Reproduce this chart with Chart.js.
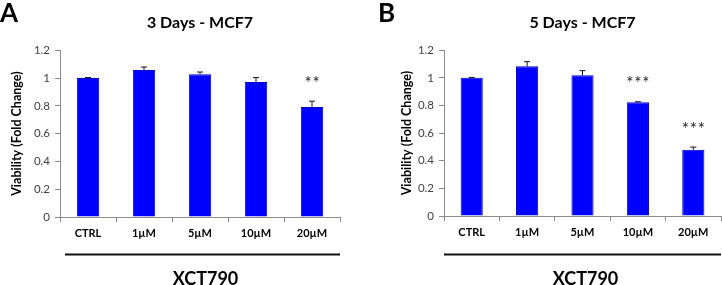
<!DOCTYPE html>
<html>
<head>
<meta charset="utf-8">
<script src="https://cdn.jsdelivr.net/npm/chart.js@4"></script>
<style>
  body { margin: 0; background: #fff; }
  .wrap { display: flex; width: 722px; height: 285px; }
  .panel { position: relative; width: 361px; height: 285px; }
  canvas { display: block; }
</style>
</head>
<body>
<div class="wrap">
  <div class="panel"><canvas id="panel-a" width="361" height="285"></canvas></div>
  <div class="panel"><canvas id="panel-b" width="361" height="285"></canvas></div>
</div>
<script>
const doses = ['CTRL', '1µM', '5µM', '10µM', '20µM'];

const day3Viability = [1.0, 1.058, 1.027, 0.971, 0.791];
const day3Error = [0.003, 0.021, 0.016, 0.032, 0.042];
const day3Sig = ['', '', '', '', '**'];

const day5Viability = [1.0, 1.083, 1.018, 0.823, 0.479];
const day5Error = [0.003, 0.034, 0.034, 0.004, 0.02];
const day5Sig = ['', '', '', '***', '***'];

const yMin = 0, yMax = 1.2, yStep = 0.2;

const FONT = 'Lato, "Open Sans", sans-serif';

// error bars, stars, panel letter, drug line
const panelDeco = {
  id: 'panelDeco',
  afterDatasetsDraw(chart, args, opts) {
    const {ctx} = chart;
    const y = chart.scales.y;
    const bars = chart.getDatasetMeta(0).data;
    bars.forEach((bar, i) => {
      const top = y.getPixelForValue(opts.values[i] + opts.errors[i]);
      ctx.save();
      ctx.strokeStyle = '#101030';
      ctx.lineWidth = 1;
      ctx.beginPath();
      ctx.moveTo(bar.x, bar.y);
      ctx.lineTo(bar.x, top);
      ctx.moveTo(bar.x - 3, top);
      ctx.lineTo(bar.x + 3, top);
      ctx.stroke();
      if (opts.stars[i]) {
        ctx.fillStyle = '#222';
        ctx.font = '17px ' + FONT;
        ctx.textAlign = 'center';
        ctx.textBaseline = 'middle';
        const n = opts.stars[i].length;
        for (let k = 0; k < n; k++) {
          ctx.fillText('*', bar.x + (k - (n - 1) / 2) * 8, top - 18);
        }
      }
      ctx.restore();
    });
  },
  afterDraw(chart, args, opts) {
    const {ctx, chartArea} = chart;
    ctx.save();
    ctx.fillStyle = '#000';
    ctx.font = 'bold 26px ' + FONT;
    ctx.textAlign = 'left';
    ctx.textBaseline = 'alphabetic';
    ctx.fillText(opts.letter, opts.letterX, 22);

    ctx.strokeStyle = '#111';
    ctx.lineWidth = 2;
    ctx.beginPath();
    ctx.moveTo(opts.lineFrom, 254.5);
    ctx.lineTo(chartArea.right, 254.5);
    ctx.stroke();

    ctx.font = 'bold 18px ' + FONT;
    ctx.textAlign = 'center';
    ctx.fillText('XCT790', (opts.lineFrom + chartArea.right) / 2 + 3, 285);
    ctx.restore();
  }
};

function makePanel(id, title, values, errors, stars, deco, pad, yWidth) {
  return new Chart(document.getElementById(id), {
    type: 'bar',
    data: {
      labels: doses,
      datasets: [{
        data: values,
        backgroundColor: '#0000ff',
        borderColor: '#0000c8',
        borderWidth: 1,
        categoryPercentage: 1,
        barPercentage: 0.4
      }]
    },
    options: {
      responsive: false,
      animation: false,
      devicePixelRatio: 1,
      layout: { padding: { left: pad.left, right: pad.right, top: 0, bottom: 0 } },
      plugins: {
        legend: { display: false },
        tooltip: { enabled: false },
        title: {
          display: true,
          fullSize: false,
          text: title,
          color: '#000',
          font: { family: FONT, size: 16, weight: 'bold' },
          padding: { top: 13, bottom: 18 }
        },
        panelDeco: Object.assign({ values: values, errors: errors, stars: stars }, deco)
      },
      scales: {
        x: {
          grid: { display: true, drawOnChartArea: false, offset: true, tickLength: 5, color: '#8c8c8c' },
          border: { color: '#8c8c8c' },
          ticks: { color: '#000', font: { family: FONT, size: 11, weight: 'bold' }, padding: 5 },
          afterFit: s => { s.height = 285 - pad.bottomArea; }
        },
        y: {
          min: yMin,
          max: yMax,
          grid: { drawOnChartArea: false, tickLength: 5, color: '#8c8c8c' },
          border: { color: '#8c8c8c' },
          ticks: {
            stepSize: yStep,
            color: '#404040',
            font: { family: FONT, size: 11.5 },
            padding: 5,
            callback: v => String(Number(v.toFixed(1)))
          },
          title: {
            display: true,
            text: 'Viability (Fold Change)',
            color: '#000',
            font: { family: FONT, size: 12.5, weight: 'bold' },
            padding: { top: 9, bottom: 0 }
          },
          afterFit: s => { s.width = yWidth; }
        }
      }
    },
    plugins: [panelDeco]
  });
}

makePanel('panel-a', '3 Days - MCF7', day3Viability, day3Error, day3Sig,
  { letter: 'A', letterX: 0, lineFrom: 65 },
  { left: 0, right: 21, bottomArea: 217 }, 60);

makePanel('panel-b', '5 Days - MCF7', day5Viability, day5Error, day5Sig,
  { letter: 'B', letterX: 17, lineFrom: 83 },
  { left: 29, right: 1, bottomArea: 216 }, 54);
</script>
</body>
</html>
